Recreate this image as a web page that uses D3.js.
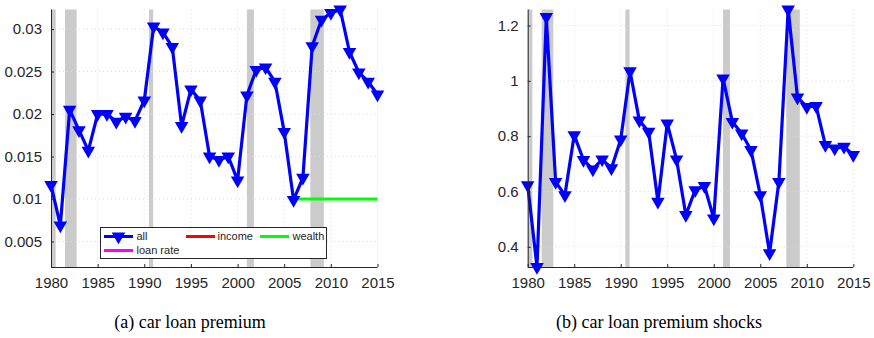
<!DOCTYPE html>
<html><head><meta charset="utf-8">
<script src="https://cdn.jsdelivr.net/npm/d3@7"></script>
<style>body{margin:0;background:#fff} svg{display:block}</style>
</head><body>
<svg id="c" width="874" height="338"></svg>
<script>
const years = [1980,1981,1982,1983,1984,1985,1986,1987,1988,1989,1990,1991,1992,1993,1994,1995,1996,1997,1998,1999,2000,2001,2002,2003,2004,2005,2006,2007,2008,2009,2010,2011,2012,2013,2014,2015];
const premiumAll = [0.01165,0.0069,0.0205,0.0181,0.0157,0.0200,0.0200,0.0191,0.0197,0.0192,0.0216,0.0303,0.0296,0.0279,0.0186,0.0229,0.0216,0.0150,0.0146,0.0150,0.0122,0.0222,0.0252,0.0255,0.0238,0.0179,0.0099,0.0125,0.0280,0.0311,0.0319,0.0323,0.0273,0.0249,0.0238,0.0223];
const wealthYears = [2006,2007,2008,2009,2010,2011,2012,2013,2014,2015];
const premiumWealth = [0.01,0.01,0.01,0.01,0.01,0.01,0.01,0.01,0.01,0.01];
const incomeYears = [];
const premiumIncome = [];
const loanRateYears = [];
const loanRate = [];
const shocks = [0.623,0.327,1.231,0.635,0.587,0.804,0.714,0.680,0.716,0.684,0.788,1.035,0.857,0.816,0.563,0.846,0.716,0.515,0.605,0.620,0.503,1.009,0.852,0.810,0.750,0.587,0.377,0.635,1.258,0.940,0.906,0.909,0.768,0.756,0.762,0.732];
const recessions = [[1980.0,1980.5],[1981.5,1982.75],[1990.5,1990.95],[2001.0,2001.75],[2007.8,2009.25]];
const xTicks = [1980,1985,1990,1995,2000,2005,2010,2015];
const yTicksA = [0.005,0.01,0.015,0.02,0.025,0.03];
const yTicksB = [0.4,0.6,0.8,1,1.2];
const yDomainA = [0.002,0.0323];
const yDomainB = [0.327,1.258];
const captions = ["(a) car loan premium","(b) car loan premium shocks"];
const legendLabels = ["all","income","wealth","loan rate"];
const legendColors = ["#0000ff","#ff0000","#00ff00","#ff00ff"];

const svg = d3.select("#c");
const AX = "#262626";
const tri = d3.symbol(d3.symbolTriangle).size(52);

function panel(x0, x1, yDom, yTicks, series, extra) {
  const top = 9.5, bot = 267;
  const x = d3.scaleLinear().domain([1980,2015]).range([x0,x1]);
  const y = d3.scaleLinear().domain(yDom).range([bot,top]);
  const g = svg.append("g");
  g.selectAll("rect.rec").data(recessions).join("rect")
    .attr("x", d => x(d[0])).attr("width", d => x(d[1]) - x(d[0]))
    .attr("y", top).attr("height", bot - top).attr("fill", "#cbcbcb");
  g.selectAll("line.gx").data(xTicks.slice(1)).join("line")
    .attr("x1", d => x(d)).attr("x2", d => x(d)).attr("y1", top).attr("y2", bot)
    .attr("stroke", "#dadada").attr("stroke-width", 1).attr("stroke-dasharray", "1,3");
  g.selectAll("line.gy").data(yTicks).join("line")
    .attr("x1", x0).attr("x2", x1).attr("y1", d => y(d)).attr("y2", d => y(d))
    .attr("stroke", "#dadada").attr("stroke-width", 1).attr("stroke-dasharray", "1,3");
  if (extra) extra(g, x, y);
  const line = d3.line().x((d,i) => x(years[i])).y(d => y(d));
  g.append("path").datum(series).attr("d", line)
    .attr("fill", "none").attr("stroke", "#0000ff").attr("stroke-width", 3.2).attr("stroke-linejoin", "round");
  g.selectAll("path.m").data(series).join("path")
    .attr("d", tri)
    .attr("transform", (d,i) => `translate(${x(years[i])},${y(d)}) rotate(180)`)
    .attr("fill", "#0000ff").attr("stroke", "#0000ff").attr("stroke-width", 1.5);
  const xa = d3.axisBottom(x).tickValues(xTicks).tickFormat(d3.format("d")).tickSizeInner(-3).tickSizeOuter(0).tickPadding(10);
  const gx = g.append("g").attr("transform", `translate(0,${bot})`).call(xa);
  const ya = d3.axisLeft(y).tickValues(yTicks).tickFormat(d => String(+d.toPrecision(6))).tickSizeInner(-3).tickSizeOuter(0).tickPadding(9);
  const gy = g.append("g").attr("transform", `translate(${x0},0)`).call(ya);
  [gx, gy].forEach(a => {
    a.select(".domain").attr("stroke", AX).attr("stroke-width", 1);
    a.selectAll(".tick line").attr("stroke", AX);
    a.selectAll("text").attr("fill", AX).attr("font-family", "Liberation Sans, Arial, sans-serif").attr("font-size", "15px");
  });
  gy.select(".domain").attr("d", `M0.5,${top}V${bot}`);
  gx.select(".domain").attr("d", `M${x0},0.5H${x1}`);
  return {x, y};
}

panel(51, 377.5, yDomainA, yTicksA, premiumAll, (g, x, y) => {
  const l = d3.line().x((d,i) => x(wealthYears[i])).y(d => y(d));
  g.append("path").datum(premiumWealth).attr("d", l).attr("fill","none").attr("stroke","#00ff00").attr("stroke-width",3);
  const li = d3.line().x((d,i) => x(incomeYears[i])).y(d => y(d));
  g.append("path").datum(premiumIncome).attr("d", li).attr("fill","none").attr("stroke","#ff0000").attr("stroke-width",3);
  const lr = d3.line().x((d,i) => x(loanRateYears[i])).y(d => y(d));
  g.append("path").datum(loanRate).attr("d", lr).attr("fill","none").attr("stroke","#ff00ff").attr("stroke-width",3);
});
panel(527.7, 853.3, yDomainB, yTicksB, shocks, null);

const lg = svg.append("g");
lg.append("rect").attr("x", 100.5).attr("y", 227.5).attr("width", 226).attr("height", 31)
  .attr("fill", "#fff").attr("stroke", AX).attr("stroke-width", 1);
const items = [
  {lx: 104, ly: 236.5, tx: 136.5},
  {lx: 186, ly: 236.5, tx: 217.5},
  {lx: 260, ly: 236.5, tx: 292.5},
  {lx: 104, ly: 250.5, tx: 136.5}
];
items.forEach((it, i) => {
  lg.append("line").attr("x1", it.lx).attr("x2", it.lx + 29).attr("y1", it.ly).attr("y2", it.ly)
    .attr("stroke", legendColors[i]).attr("stroke-width", 3);
  if (i === 0) lg.append("path").attr("d", tri).attr("transform", `translate(${it.lx + 14.5},${it.ly}) rotate(180)`)
    .attr("fill", "#0000ff").attr("stroke", "#0000ff").attr("stroke-width", 1.5);
  lg.append("text").attr("x", it.tx).attr("y", it.ly).attr("dy", "0.35em")
    .attr("font-family", "Liberation Sans, Arial, sans-serif").attr("font-size", "11px").attr("fill", AX)
    .text(legendLabels[i]);
});

svg.selectAll("text.cap").data(captions).join("text")
  .attr("x", (d,i) => i === 0 ? 190 : 659).attr("y", 328)
  .attr("text-anchor", "middle").attr("font-family", "Liberation Serif, Times New Roman, serif")
  .attr("font-size", "18px").attr("fill", "#000").text(d => d);
</script>
</body></html>
